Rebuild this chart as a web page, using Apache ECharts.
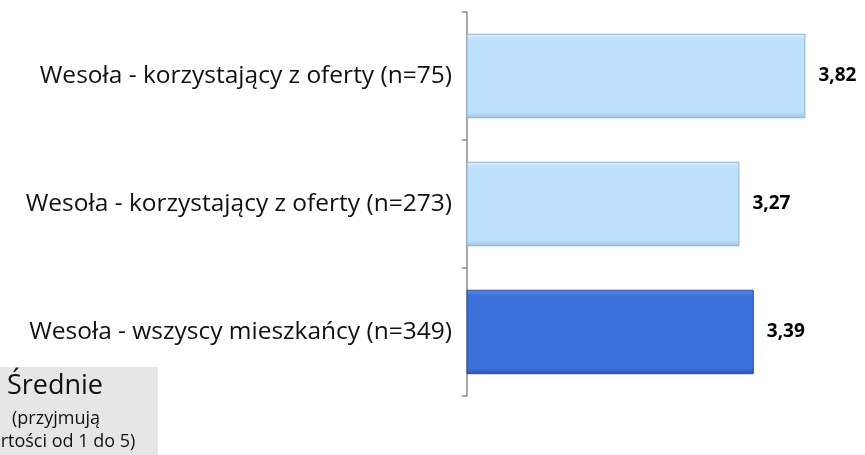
<!DOCTYPE html>
<html>
<head>
<meta charset="utf-8">
<script src="https://cdn.jsdelivr.net/npm/echarts@6/dist/echarts.min.js"></script>
<style>
  html, body { margin: 0; padding: 0; background: #fff; }
  #chart { width: 865px; height: 455px; }
</style>
</head>
<body>
<div id="chart"></div>
<script>
  const categories = [
    'Wesoła - korzystający z oferty (n=75)',
    'Wesoła - korzystający z oferty (n=273)',
    'Wesoła - wszyscy mieszkańcy (n=349)'
  ];
  const values = [3.82, 3.27, 3.39];
  const barKinds = ['light', 'light', 'dark'];
  const noteLines = ['Średnie', '(przyjmują', 'wartości od 1 do 5)'];

  // kolory słupków z lekkim efektem fazowania
  const fills = {
    light: { top: '#dff0fd', base: '#bde0fb', bottom: '#9cbfdc', border: '#8fb2cf' },
    dark: { top: '#5d8ee6', base: '#3a70d8', bottom: '#2b56a8', border: '#2a4f99' }
  };
  function bevel(k) {
    const c = fills[k];
    return new echarts.graphic.LinearGradient(0, 0, 0, 1, [
      { offset: 0, color: c.top },
      { offset: 0.07, color: c.base },
      { offset: 0.93, color: c.base },
      { offset: 1, color: c.bottom }
    ]);
  }

  const chart = echarts.init(document.getElementById('chart'));
  const option = {
    animation: false,
    grid: { left: 467, right: 38, top: 12, bottom: 59, containLabel: false },
    xAxis: {
      type: 'value',
      min: 1,
      max: 4,
      show: false
    },
    yAxis: {
      type: 'category',
      inverse: true,
      data: categories,
      axisLine: { show: true, lineStyle: { color: '#8c8c8c', width: 1.5 } },
      axisTick: { show: true, length: 5, lineStyle: { color: '#8c8c8c', width: 1.5 } },
      axisLabel: {
        margin: 15,
        fontFamily: 'Open Sans',
        fontSize: 24.5,
        color: '#111'
      }
    },
    series: [
      {
        type: 'bar',
        barCategoryGap: '34%',
        data: values.map((v, i) => ({
          value: v,
          itemStyle: {
            color: bevel(barKinds[i]),
            borderColor: fills[barKinds[i]].border,
            borderWidth: 1
          }
        })),
        label: {
          show: true,
          position: 'right',
          distance: 13,
          fontFamily: 'Open Sans',
          fontWeight: 'bold',
          fontSize: 19,
          color: '#000',
          formatter: p => p.value.toFixed(2).replace('.', ',')
        }
      }
    ],
    graphic: [
      {
        type: 'rect',
        left: 0,
        top: 367,
        shape: { width: 158, height: 90 },
        style: { fill: '#e6e6e6' }
      },
      {
        type: 'text',
        x: 55, y: 386,
        style: { text: noteLines[0], font: '27px "Open Sans"', fill: '#111', align: 'center', verticalAlign: 'middle' }
      },
      {
        type: 'text',
        x: 56, y: 419,
        style: { text: noteLines[1], font: '18px "Open Sans"', fill: '#111', align: 'center', verticalAlign: 'middle' }
      },
      {
        type: 'text',
        x: 56, y: 442,
        style: { text: noteLines[2], font: '18px "Open Sans"', fill: '#111', align: 'center', verticalAlign: 'middle' }
      }
    ]
  };
  chart.setOption(option);
</script>
</body>
</html>
